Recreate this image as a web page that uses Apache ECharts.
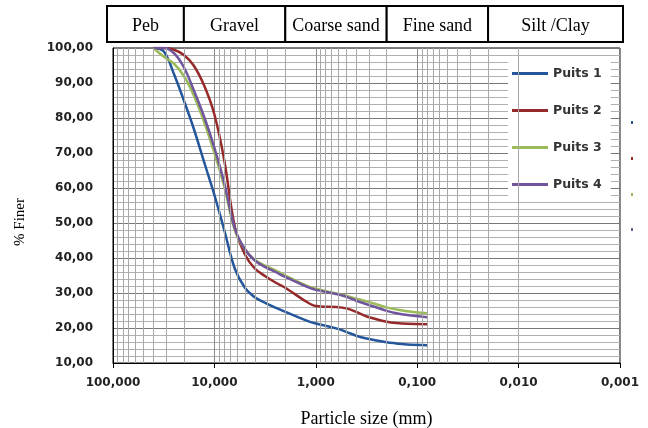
<!DOCTYPE html>
<html>
<head>
<meta charset="utf-8">
<script src="https://cdn.jsdelivr.net/npm/echarts@6/dist/echarts.min.js"></script>
<style>
  html, body { margin: 0; padding: 0; background: #fff; }
  #chart { width: 648px; height: 428px; }
</style>
</head>
<body>
<div id="chart"></div>
<script>
// sieve sizes in mm
const sizes = [40, 31.5, 25, 20, 16, 12.5, 10, 8, 6.3, 5, 4, 3.15, 2.5, 2, 1.25, 1, 0.63, 0.5, 0.4, 0.315, 0.2, 0.16, 0.125, 0.08];
// % finer for each well
const puits1 = [100, 99, 92.5, 85, 77, 67, 58, 48, 37, 31.5, 28.8, 27.2, 25.8, 24.6, 22.2, 21.3, 19.9, 18.9, 17.8, 17, 15.9, 15.6, 15.3, 15.1];
const puits2 = [100, 100, 99.5, 98, 95, 89, 81, 68, 49, 41, 37, 34.8, 33, 31.5, 27.6, 26.3, 26, 25.6, 24.6, 23.3, 21.8, 21.4, 21.2, 21.1];
const puits3 = [100, 97.5, 95.5, 92, 86.5, 78.5, 70, 60.5, 48, 42.5, 39.5, 37.8, 36.5, 35, 32.2, 31.2, 29.9, 29.2, 28.4, 27.6, 25.9, 25.3, 24.8, 24.2];
const puits4 = [100, 100, 98.5, 94.5, 88, 80, 71.5, 61.5, 48.5, 42.5, 39.3, 37.4, 36, 34.6, 31.9, 30.9, 29.7, 28.9, 27.8, 26.8, 24.9, 24.2, 23.7, 23.1];
const seriesNames = ['Puits 1', 'Puits 2', 'Puits 3', 'Puits 4'];
const seriesColors = ['#23569a', '#962a2a', '#9bbb59', '#70559c'];
// soil classes on top, and the sizes between them
const bandNames = ['Peb', 'Gravel', 'Coarse sand', 'Fine sand', 'Silt /Clay'];
const bandLimits = [20, 2, 0.2, 0.02];

const chart = echarts.init(document.getElementById('chart'));

// log grid lines 2..9 in every decade
const minorLines = [];
[0.001, 0.01, 0.1, 1, 10].forEach(d => {
  for (let m = 2; m <= 9; m++) minorLines.push({ xAxis: +(m * d).toPrecision(3) });
});

const allValues = [puits1, puits2, puits3, puits4];
const curveSeries = seriesNames.map((name, i) => ({
  name: name,
  type: 'line',
  data: sizes.map((s, k) => [s, allValues[i][k]]),
  symbol: 'none',
  smooth: 0.35,
  z: 3,
  lineStyle: { width: 2.5, color: seriesColors[i] },
  itemStyle: { color: seriesColors[i] }
}));

const option = {
  animation: false,
  backgroundColor: '#fff',
  grid: {
    left: 113, right: 28, top: 48, bottom: 65,
    outerBoundsMode: 'none',
    show: true, borderColor: '#000', borderWidth: 1
  },
  legend: {
    data: seriesNames,
    orient: 'vertical',
    left: 508, top: 58,
    padding: [9, 9, 8, 4],
    backgroundColor: '#fff',
    itemWidth: 36, itemHeight: 3, itemGap: 24,
    icon: 'rect',
    textStyle: { fontFamily: 'DejaVu Sans', fontSize: 12.5, fontWeight: 'bold', color: '#333' }
  },
  xAxis: {
    type: 'log', logBase: 10, min: 0.001, max: 100, inverse: true,
    name: 'Particle size (mm)', nameLocation: 'middle', nameGap: 47,
    nameTextStyle: { fontFamily: 'Liberation Serif', fontSize: 18, color: '#000' },
    axisLine: { lineStyle: { color: '#000' } },
    axisTick: { show: true, length: 5, lineStyle: { color: '#000' } },
    axisLabel: {
      margin: 14, fontFamily: 'DejaVu Sans', fontSize: 12, fontWeight: 'bold', color: '#222',
      formatter: v => Number(v).toFixed(3).replace('.', ',')
    },
    splitLine: { show: true, lineStyle: { color: '#888', width: 1 } }
  },
  yAxis: {
    type: 'value', min: 10, max: 100, interval: 10,
    axisLine: { show: true, lineStyle: { color: '#000' } },
    axisTick: { show: false },
    axisLabel: {
      margin: 20, fontFamily: 'DejaVu Sans', fontSize: 12, fontWeight: 'bold', color: '#222',
      formatter: v => v.toFixed(2).replace('.', ',')
    },
    splitLine: { show: true, lineStyle: { color: '#777', width: 1 } },
    minorTick: { show: false, splitNumber: 5 },
    minorSplitLine: { show: true, lineStyle: { color: '#b0b0b0', width: 1 } }
  },
  series: [
    {
      name: 'grid',
      type: 'line',
      data: [],
      z: 1,
      silent: true,
      markLine: {
        silent: true,
        symbol: ['none', 'none'],
        label: { show: false },
        lineStyle: { color: '#a8a8a8', type: 'solid', width: 1 },
        data: minorLines
      }
    }
  ].concat(curveSeries)
};
chart.setOption(option);

// class boxes above the plot, split at the size limits
function drawHeader() {
  const x = v => chart.convertToPixel({ xAxisIndex: 0 }, v);
  const edges = [x(100) - 6].concat(bandLimits.map(x)).concat([x(0.001) + 3]);
  const top = 6, h = 36;
  const items = [];
  bandNames.forEach((name, i) => {
    const x0 = edges[i], x1 = edges[i + 1];
    items.push({
      type: 'rect',
      shape: { x: x0, y: top, width: x1 - x0, height: h },
      style: { fill: '#fff', stroke: '#000', lineWidth: 2 }
    });
    items.push({
      type: 'text',
      x: (x0 + x1) / 2, y: top + h / 2 + 2,
      style: {
        text: name, fill: '#000', align: 'center', verticalAlign: 'middle',
        font: '18px "Liberation Serif"'
      }
    });
  });
  // y axis title
  items.push({
    type: 'text', x: 20, y: 222, rotation: Math.PI / 2,
    style: { text: '% Finer', fill: '#000', align: 'center', verticalAlign: 'middle', font: '15px "Liberation Serif"' }
  });
  // bits of a second legend cut off at the right edge
  const dotsY = [121, 157, 193, 228];
  dotsY.forEach((y, i) => {
    items.push({ type: 'rect', shape: { x: 631, y: y, width: 2, height: 3 }, style: { fill: seriesColors[i] } });
  });
  chart.setOption({ graphic: items });
}
drawHeader();
</script>
</body>
</html>
